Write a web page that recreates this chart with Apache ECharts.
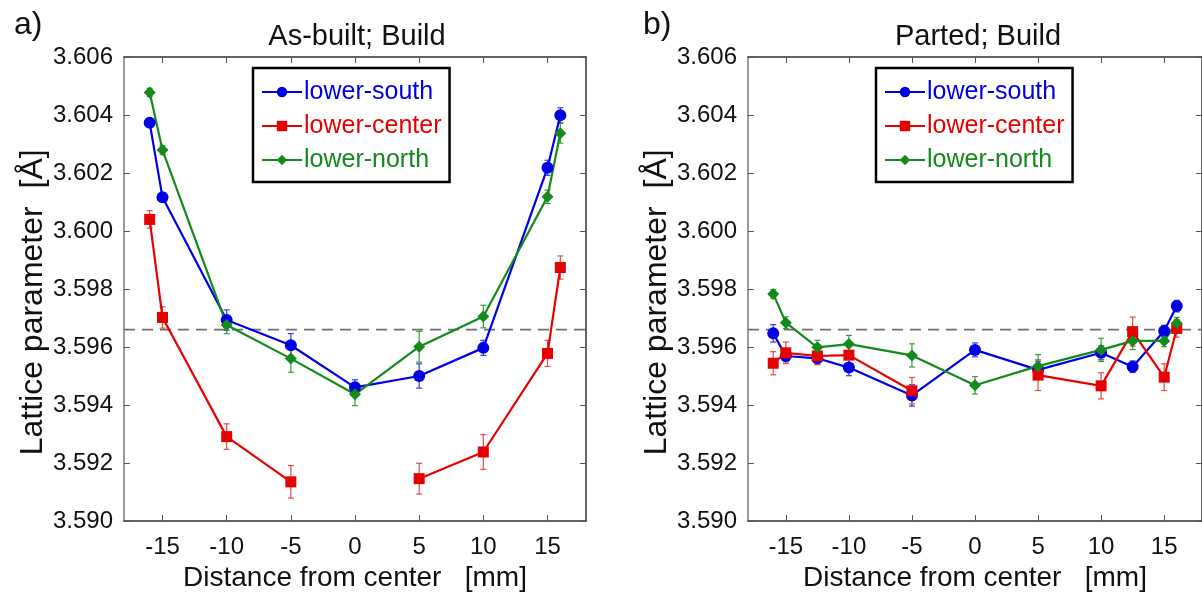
<!DOCTYPE html>
<html>
<head>
<meta charset="utf-8">
<script src="https://cdn.jsdelivr.net/npm/echarts@6/dist/echarts.min.js"></script>
<style>html,body{margin:0;padding:0;background:#fff;}#c{width:1202px;height:598px;}</style>
</head>
<body>
<div id="c"></div>
<script>
// ---- data ----
const seriesNames = ['lower-south', 'lower-center', 'lower-north'];
const xTicks = [-15, -10, -5, 0, 5, 10, 15];
const yTicks = [3.590, 3.592, 3.594, 3.596, 3.598, 3.600, 3.602, 3.604, 3.606];
const refLine = 3.5966;

const xLeft = [-16, -15, -10, -5, 0, 5, 10, 15, 16];
const leftSouth = [3.60373, 3.60116, 3.59693, 3.59606, 3.59461, 3.59500, 3.59597, 3.60218, 3.60399];
const leftSouthErr = [0.00011, 0.00010, 0.00035, 0.00040, 0.00026, 0.00042, 0.00026, 0.00026, 0.00026];
const leftCenter = [3.60040, 3.59702, 3.59291, 3.59135, null, 3.59146, 3.59238, 3.59578, 3.59874];
const leftCenterErr = [0.00030, 0.00037, 0.00044, 0.00056, null, 0.00053, 0.00060, 0.00045, 0.00040];
const leftNorth = [3.60478, 3.60279, 3.59676, 3.59560, 3.59437, 3.59601, 3.59705, 3.60118, 3.60337];
const leftNorthErr = [0.00014, 0.00015, 0.00030, 0.00047, 0.00039, 0.00053, 0.00039, 0.00023, 0.00034];

const xRight = [-16, -15, -12.5, -10, -5, 0, 5, 10, 12.5, 15, 16];
const rightSouth = [3.59647, 3.59569, 3.59561, 3.59529, 3.59433, 3.59590, 3.59521, 3.59580, 3.59532, 3.59655, 3.59741];
const rightSouthErr = [0.00030, 0.00020, 0.00020, 0.00028, 0.00037, 0.00024, 0.00030, 0.00024, 0.00020, 0.00020, 0.00020];
const rightCenter = [3.59544, 3.59580, 3.59569, 3.59572, 3.59449, null, 3.59503, 3.59466, 3.59653, 3.59496, 3.59664];
const rightCenterErr = [0.00040, 0.00037, 0.00030, 0.00030, 0.00046, null, 0.00053, 0.00045, 0.00050, 0.00046, 0.00030];
const rightNorth = [3.59783, 3.59684, 3.59599, 3.59610, 3.59571, 3.59468, 3.59534, 3.59590, 3.59621, 3.59621, 3.59682];
const rightNorthErr = [0.00015, 0.00020, 0.00024, 0.00030, 0.00040, 0.00030, 0.00040, 0.00040, 0.00030, 0.00020, 0.00020];

// ---- styling ----
const FONT = "'Liberation Sans',Arial,Helvetica,sans-serif";
const colors = ['#0000e6', '#e60000', '#138a1a'];
const errColors = ['#3a3ae8', '#e84a4a', '#3a9a3a'];
const symbols = ['circle', 'rect', 'diamond'];
const symSizes = [12, 11, 12];
const AX = '#7a7a7a', AXD = '#333';

const chart = echarts.init(document.getElementById('c'), null, {renderer: 'canvas'});

const grids = [
  {left: 124, top: 57, width: 462, height: 464},
  {left: 748, top: 57, width: 463, height: 464}
];

function xAx(gi, pos) {
  const bottom = pos === 'bottom';
  return {
    type: 'value', gridIndex: gi, position: pos, min: -18, max: 18,
    axisLine: {show: true, onZero: false, lineStyle: {color: AXD, width: 1.5}},
    axisTick: {show: true, inside: true, length: 6, customValues: xTicks, lineStyle: {color: '#555', width: 1}},
    axisLabel: {show: bottom, customValues: xTicks, margin: 14, fontFamily: FONT, fontSize: 24, color: '#111'},
    splitLine: {show: false},
    name: bottom ? 'Distance from center   [mm]' : '',
    nameLocation: 'middle', nameGap: 43,
    nameTextStyle: {fontFamily: FONT, fontSize: 28, color: '#111'}
  };
}
function yAx(gi, pos) {
  const left = pos === 'left';
  return {
    type: 'value', gridIndex: gi, position: pos, min: 3.590, max: 3.606, interval: 0.002,
    axisLine: {show: true, onZero: false, lineStyle: {color: left ? AX : AXD, width: 1.5}},
    axisTick: {show: true, inside: true, length: 6, lineStyle: {color: '#555', width: 1}},
    axisLabel: {show: left, margin: 11, fontFamily: FONT, fontSize: 24, color: '#111',
      formatter: v => v.toFixed(3)},
    splitLine: {show: false},
    name: left ? 'Lattice parameter  [Å]   ' : '',
    nameLocation: 'middle', nameGap: 71, nameRotate: 90,
    nameTextStyle: {fontFamily: FONT, fontSize: 32, color: '#111'}
  };
}

function lineSeries(name, idx, xs, ys, axisIdx) {
  return {
    type: 'line', name: name, xAxisIndex: axisIdx.x, yAxisIndex: axisIdx.y,
    data: xs.map((x, i) => [x, ys[i] === null ? '-' : ys[i]]),
    connectNulls: false,
    symbol: symbols[idx], symbolSize: symSizes[idx],
    lineStyle: {color: colors[idx], width: 2.2},
    itemStyle: {color: colors[idx]},
    z: 5, animation: false
  };
}

function refSeries(axisIdx) {
  return {
    type: 'line', name: 'reference', xAxisIndex: axisIdx.x, yAxisIndex: axisIdx.y,
    data: [[-18, refLine], [18, refLine]], symbol: 'none', silent: true,
    lineStyle: {color: '#6e6e6e', type: [11, 7], width: 1.6}, z: 2, animation: false
  };
}

function errSeries(idx, xs, ys, es, axisIdx) {
  const data = [];
  xs.forEach((x, i) => { if (ys[i] !== null) data.push([x, ys[i], es[i]]); });
  return {
    type: 'custom', name: seriesNames[idx] + ' error', xAxisIndex: axisIdx.x, yAxisIndex: axisIdx.y,
    data: data, encode: {x: 0, y: 1}, z: 3, animation: false, silent: true,
    renderItem: function (params, api) {
      const x = api.value(0), y = api.value(1), e = api.value(2);
      const t = api.coord([x, y + e]), b = api.coord([x, y - e]);
      const w = 3;
      const st = {stroke: errColors[idx], lineWidth: 1.2};
      return {type: 'group', children: [
        {type: 'line', shape: {x1: t[0], y1: t[1], x2: b[0], y2: b[1]}, style: st},
        {type: 'line', shape: {x1: t[0] - w, y1: t[1], x2: t[0] + w, y2: t[1]}, style: st},
        {type: 'line', shape: {x1: b[0] - w, y1: b[1], x2: b[0] + w, y2: b[1]}, style: st}
      ]};
    }
  };
}

const L = {x: 0, y: 0}, R = {x: 2, y: 2};
const series = [
  refSeries(L),
  errSeries(0, xLeft, leftSouth, leftSouthErr, L),
  errSeries(1, xLeft, leftCenter, leftCenterErr, L),
  errSeries(2, xLeft, leftNorth, leftNorthErr, L),
  lineSeries(seriesNames[0], 0, xLeft, leftSouth, L),
  lineSeries(seriesNames[1], 1, xLeft, leftCenter, L),
  lineSeries(seriesNames[2], 2, xLeft, leftNorth, L),
  refSeries(R),
  errSeries(0, xRight, rightSouth, rightSouthErr, R),
  errSeries(1, xRight, rightCenter, rightCenterErr, R),
  errSeries(2, xRight, rightNorth, rightNorthErr, R),
  lineSeries(seriesNames[0], 0, xRight, rightSouth, R),
  lineSeries(seriesNames[1], 1, xRight, rightCenter, R),
  lineSeries(seriesNames[2], 2, xRight, rightNorth, R)
];

function legendAt(left) {
  return {
    left: left, top: 68, orient: 'vertical',
    backgroundColor: '#fff', borderColor: '#000', borderWidth: 2.5,
    padding: [9, 8, 7, 8], itemGap: 4, itemWidth: 40, itemHeight: 13,
    data: seriesNames.map((n, i) => ({name: n, textStyle: {color: colors[i]}})),
    textStyle: {fontFamily: FONT, fontSize: 25, lineHeight: 30, padding: [0, 0, 0, -3]},
    selectedMode: false
  };
}

const option = {
  backgroundColor: '#fff',
  animation: false,
  grid: grids,
  xAxis: [xAx(0, 'bottom'), xAx(0, 'top'), xAx(1, 'bottom'), xAx(1, 'top')],
  yAxis: [yAx(0, 'left'), yAx(0, 'right'), yAx(1, 'left'), yAx(1, 'right')],
  legend: [legendAt(253), legendAt(876)],
  title: [
    {text: 'As-built; Build', left: 352, top: 17, textAlign: 'center',
      textStyle: {fontFamily: FONT, fontSize: 29, fontWeight: 'normal', color: '#111'}},
    {text: 'Parted; Build', left: 973, top: 17, textAlign: 'center',
      textStyle: {fontFamily: FONT, fontSize: 29, fontWeight: 'normal', color: '#111'}},
    {text: 'a)', left: 9, top: 4,
      textStyle: {fontFamily: FONT, fontSize: 32, fontWeight: 'normal', color: '#111'}},
    {text: 'b)', left: 638, top: 4,
      textStyle: {fontFamily: FONT, fontSize: 32, fontWeight: 'normal', color: '#111'}}
  ],
  series: series
};
chart.setOption(option);
</script>
</body>
</html>
